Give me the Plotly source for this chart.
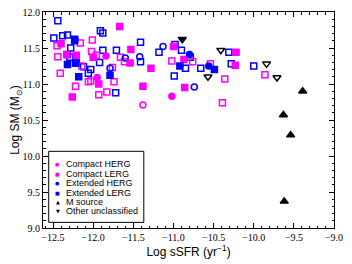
import plotly.graph_objects as go

# Extended LERG (open squares)
ext_lerg_open_x = [-12.44, -12.49, -12.38, -12.32, -12.23, -12.28, -12.32, -12.29, -12.21, -12.12, -12.06, -12.03, -11.92, -11.91, -11.88, -11.88, -11.71, -11.72, -11.41, -11.41, -11.18, -10.98, -10.90, -10.99, -10.85, -10.79, -10.66, -10.31, -10.28, -10.00]
ext_lerg_open_y = [11.88, 11.64, 11.67, 11.68, 11.62, 11.50, 11.41, 11.37, 11.29, 11.24, 11.15, 11.20, 11.30, 11.74, 11.71, 11.47, 11.47, 10.88, 11.58, 11.31, 11.44, 11.55, 11.47, 11.11, 11.22, 11.37, 11.22, 11.44, 11.28, 11.25]
# Extended LERG (filled squares)
ext_lerg_x = [-12.23, -12.32, -12.22, -12.18, -11.79, -10.92, -10.49]
ext_lerg_y = [11.60, 11.27, 11.29, 11.10, 11.12, 11.25, 11.20]
# Extended HERG
ext_herg_open_x = [-11.79, -11.60, -11.42, -11.13, -10.74]
ext_herg_open_y = [11.22, 11.36, 11.38, 11.52, 10.96]
ext_herg_x = [-10.80, -10.56]
ext_herg_y = [11.41, 11.25]
# Compact LERG (open squares)
cmp_lerg_open_x = [-12.45, -12.44, -12.41, -12.22, -12.16, -12.14, -12.06, -12.03, -12.01, -12.02, -11.96, -11.93, -11.83, -11.76, -11.74, -11.66, -11.61, -11.02, -10.76, -10.54, -10.36, -10.39, -9.86]
cmp_lerg_open_y = [11.53, 11.38, 11.15, 10.97, 11.57, 11.25, 11.03, 11.04, 11.61, 11.45, 11.40, 10.85, 10.89, 11.23, 11.03, 11.37, 11.31, 11.32, 11.31, 11.28, 11.07, 10.74, 11.13]
# Compact LERG (filled squares)
cmp_lerg_x = [-12.40, -12.21, -12.26, -11.93, -12.00, -11.67, -11.53, -11.54, -11.38, -11.28, -11.00, -10.87, -10.86, -10.22, -10.23, -12.33]
cmp_lerg_y = [11.56, 11.40, 10.82, 11.00, 11.37, 11.80, 11.48, 11.29, 10.97, 11.22, 11.52, 11.34, 10.95, 11.44, 11.26, 11.41]
# Compact HERG
cmp_herg_x = [-11.95, -11.84, -11.02]
cmp_herg_y = [11.09, 11.39, 10.83]
cmp_herg_open_x = [-11.38]
cmp_herg_open_y = [10.71]
# M source
m_x = [-9.39, -9.63, -9.54, -9.62]
m_y = [10.90, 10.57, 10.29, 9.37]
# Other unclassified
oth_open_x = [-10.57, -10.41, -9.84, -9.71]
oth_open_y = [11.10, 11.47, 11.28, 11.09]
oth_x = [-10.89]
oth_y = [11.62]

x_ticks = [-12.5, -12.0, -11.5, -11.0, -10.5, -10.0, -9.5, -9.0]
x_ticktext = ["−12.5", "−12.0", "−11.5", "−11.0", "−10.5", "−10.0", "−9.5", "−9.0"]
legend_names = ["Compact HERG", "Compact LERG", "Extended HERG", "Extended LERG", "M source", "Other unclassified"]

MAG = "#ff00ff"
BLU = "#0000ff"
BLK = "#000000"

fig = go.Figure()

def add(x, y, sym, col, size=6):
    fig.add_trace(go.Scatter(x=x, y=y, mode="markers", showlegend=False,
                             marker=dict(symbol=sym, size=size, color=col,
                                         line=dict(color=col, width=1.5))))

add(ext_lerg_open_x, ext_lerg_open_y, "square-open", BLU)
add(cmp_lerg_open_x, cmp_lerg_open_y, "square-open", MAG)
add(ext_herg_open_x, ext_herg_open_y, "circle-open", BLU)
add(cmp_herg_open_x, cmp_herg_open_y, "circle-open", MAG)
add(oth_open_x, oth_open_y, "triangle-down-open", BLK, 7)
add(cmp_lerg_x, cmp_lerg_y, "square", MAG)
add(ext_lerg_x, ext_lerg_y, "square", BLU)
add(cmp_herg_x, cmp_herg_y, "circle", MAG)
add(ext_herg_x, ext_herg_y, "circle", BLU)
add(m_x, m_y, "triangle-up", BLK, 7)
add(oth_x, oth_y, "triangle-down", BLK, 7)

# Manual compact legend
legend_syms = [("●", MAG), ("■", MAG), ("●", BLU), ("■", BLU), ("▲", BLK), ("▼", BLK)]
legend_y = [0.295, 0.250, 0.207, 0.162, 0.120, 0.078]
fig.add_shape(type="rect", xref="paper", yref="paper", x0=0.0196, x1=0.3464, y0=0.026, y1=0.355,
              line=dict(color="black", width=1), fillcolor="white", layer="above")
for (s, c), name, yy in zip(legend_syms, legend_names, legend_y):
    fig.add_annotation(xref="paper", yref="paper", x=0.0506, y=yy, text=s, showarrow=False,
                       xanchor="center", yanchor="middle",
                       font=dict(family="DejaVu Sans", size=5, color=c))
    fig.add_annotation(xref="paper", yref="paper", x=0.073, y=yy, text=name, showarrow=False,
                       xanchor="left", yanchor="middle",
                       font=dict(family="Liberation Sans", size=9, color="black"))

axis_common = dict(showline=True, linecolor="black", linewidth=1, mirror="ticks",
                   ticks="inside", ticklen=5, tickcolor="black", showgrid=False,
                   zeroline=False, automargin=False, ticklabeloverflow="allow",
                   tickfont=dict(family="Liberation Serif", size=10, color="black"),
                   minor=dict(ticks="inside", ticklen=2.5, tickcolor="black"))

fig.update_xaxes(range=[-12.625, -9.0], tickvals=x_ticks, ticktext=x_ticktext,
                 minor_dtick=0.1,
                 title=dict(text="Log sSFR (yr<sup>−1</sup>)", font=dict(family="Liberation Sans", size=12, color="black"), standoff=2),
                 **axis_common)
fig.update_yaxes(range=[9.0, 12.0], dtick=0.5, tickformat=".1f", minor_dtick=0.1,
                 title=dict(text="Log SM (M<sub>⊙</sub>)", font=dict(family="Liberation Sans", size=12, color="black"), standoff=4),
                 **axis_common)

# page body has an 8px default margin, so the figure is sized to fill the rest of the window
fig.update_layout(width=344, height=256, margin=dict(l=35, r=18, t=4, b=36),
                  plot_bgcolor="white", paper_bgcolor="white", showlegend=False)

fig.write_html("out.html")
